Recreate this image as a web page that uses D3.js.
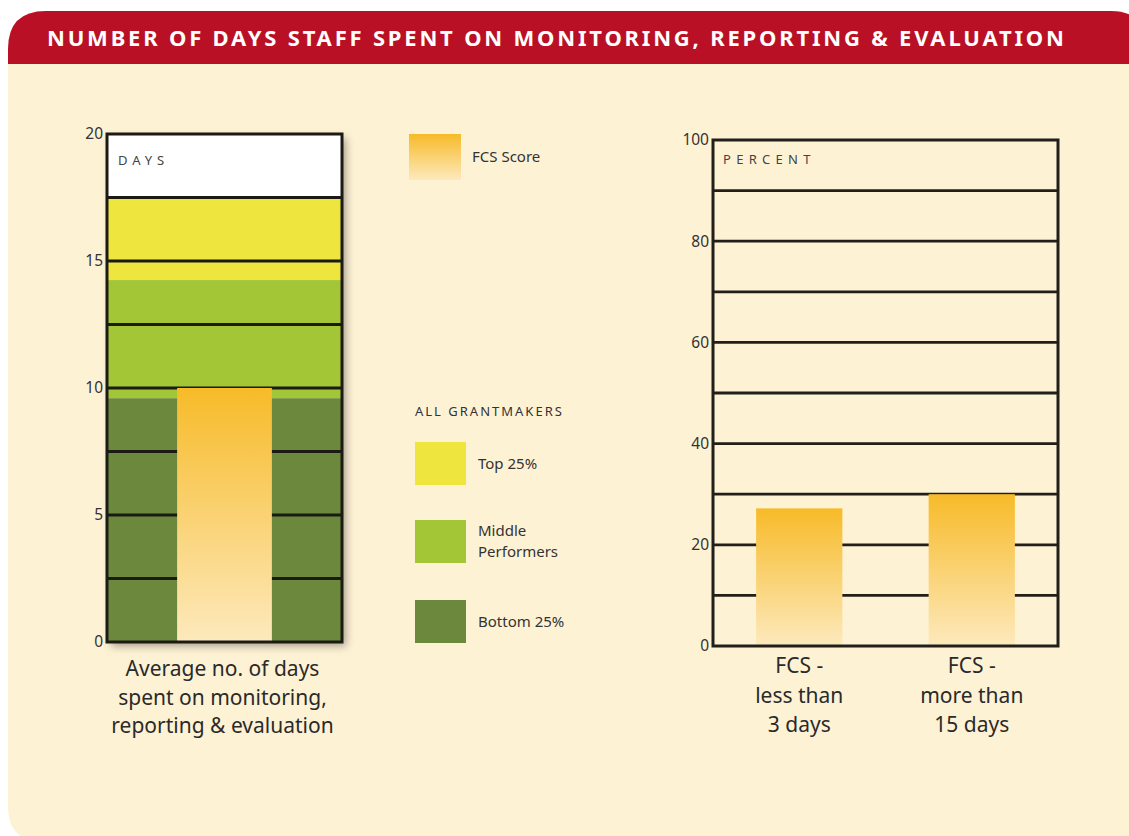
<!DOCTYPE html>
<html>
<head>
<meta charset="utf-8">
<script src="https://cdn.jsdelivr.net/npm/d3@7"></script>
<style>
	body { margin: 0; background: #fff; }
	svg { display: block; font-family: "Noto Sans", sans-serif; }
</style>
</head>
<body>
<div id="chart"></div>
<script>
// DATA
const daysTicks = [0, 5, 10, 15, 20];
const daysGrid = [2.5, 5, 7.5, 10, 12.5, 15, 17.5];
const bandNames = ["Bottom 25%", "Middle Performers", "Top 25%"];
const bandLimits = [0, 9.6, 14.25, 17.5];
const fcsAverageDays = 10;

const percentCategories = [["FCS -", "less than", "3 days"], ["FCS -", "more than", "15 days"]];
const percentValues = [27.2, 30];
const percentTicks = [0, 20, 40, 60, 80, 100];
const percentGrid = [10, 20, 30, 40, 50, 60, 70, 80, 90];

const bandColors = { "Top 25%": "#eee63e", "Middle Performers": "#a3c636", "Bottom 25%": "#6b883c" };

const W = 1129, H = 836;

var svg = d3.select("#chart").append("svg").attr("width", W).attr("height", H);

// GRADIENT & SHADOW
var defs = svg.append("defs");
var grad = defs.append("linearGradient").attr("id", "fcs").attr("x1", 0).attr("y1", 0).attr("x2", 0).attr("y2", 1);
grad.append("stop").attr("offset", "0%").attr("stop-color", "#f7bb29");
grad.append("stop").attr("offset", "100%").attr("stop-color", "#fde9bd");
defs.append("filter").attr("id", "shadow").attr("x", "-10%").attr("y", "-10%").attr("width", "130%").attr("height", "130%")
	.append("feDropShadow").attr("dx", 4).attr("dy", 4).attr("stdDeviation", 4)
	.attr("flood-color", "#000").attr("flood-opacity", 0.35);

// PANEL
const px = 8, pTop = 11, pHead = 64, pRight = 1145, pBottom = 842;
svg.append("path")
	.attr("d", `M${px},${pBottom - 36} L${px},${pTop + 38} Q${px},${pTop} ${px + 38},${pTop} L${pRight - 34},${pTop} Q${pRight},${pTop} ${pRight},${pTop + 34} L${pRight},${pBottom} L${px + 36},${pBottom} Q${px},${pBottom} ${px},${pBottom - 36} Z`)
	.attr("fill", "#fef2d5");
svg.append("path")
	.attr("d", `M${px},${pHead} L${px},${pTop + 38} Q${px},${pTop} ${px + 38},${pTop} L${pRight - 34},${pTop} Q${pRight},${pTop} ${pRight},${pTop + 34} L${pRight},${pHead} Z`)
	.attr("fill", "#b91026");
svg.append("text")
	.attr("x", 47).attr("y", 45.5)
	.attr("fill", "#fff").attr("font-size", 22).attr("font-weight", "bold")
	.attr("letter-spacing", 2.8)
	.text("NUMBER OF DAYS STAFF SPENT ON MONITORING, REPORTING & EVALUATION");

// LEFT CHART
const L = { x0: 107, x1: 342, top: 134, bottom: 642 };
var yL = d3.scaleLinear().domain([0, 20]).range([L.bottom, L.top]);

var left = svg.append("g");
left.append("rect")
	.attr("x", L.x0).attr("y", L.top).attr("width", L.x1 - L.x0).attr("height", L.bottom - L.top)
	.attr("fill", "#fff").attr("filter", "url(#shadow)");

left.selectAll(".band")
	.data(bandNames)
	.join("rect")
	.attr("class", "band")
	.attr("x", L.x0)
	.attr("width", L.x1 - L.x0)
	.attr("y", (d, i) => yL(bandLimits[i + 1]))
	.attr("height", (d, i) => yL(bandLimits[i]) - yL(bandLimits[i + 1]))
	.attr("fill", d => bandColors[d]);

left.selectAll(".grid")
	.data(daysGrid)
	.join("line")
	.attr("class", "grid")
	.attr("x1", L.x0).attr("x2", L.x1)
	.attr("y1", d => yL(d)).attr("y2", d => yL(d))
	.attr("stroke", "#1b1a14").attr("stroke-width", 2.8);

var xL = d3.scaleBand().domain(["avg"]).range([L.x0, L.x1]).paddingInner(0).paddingOuter(0.74);
left.append("rect")
	.attr("x", xL("avg")).attr("width", xL.bandwidth())
	.attr("y", yL(fcsAverageDays)).attr("height", yL(0) - yL(fcsAverageDays))
	.attr("fill", "url(#fcs)");

left.append("rect")
	.attr("x", L.x0).attr("y", L.top).attr("width", L.x1 - L.x0).attr("height", L.bottom - L.top)
	.attr("fill", "none").attr("stroke", "#1b1a14").attr("stroke-width", 3);

left.append("text")
	.attr("x", L.x0 + 11).attr("y", L.top + 31)
	.attr("fill", "#444").attr("font-size", 13).attr("letter-spacing", 5)
	.text("DAYS");

var axL = left.append("g")
	.attr("transform", `translate(${L.x0 - 3},0)`)
	.call(d3.axisLeft(yL).tickValues(daysTicks).tickSize(0).tickPadding(1));
axL.select(".domain").remove();
axL.selectAll("text").attr("font-size", 15.5).attr("fill", "#333").attr("font-family", "Noto Sans");

left.append("text")
	.attr("text-anchor", "middle").attr("font-size", 21).attr("fill", "#2a2a2a")
	.selectAll("tspan")
	.data(["Average no. of days", "spent on monitoring,", "reporting & evaluation"])
	.join("tspan")
	.attr("x", (L.x0 + L.x1) / 2 - 2)
	.attr("y", (d, i) => 676 + i * 28.5)
	.text(d => d);

// LEGEND
var legend = svg.append("g");
legend.append("rect").attr("x", 409).attr("y", 134).attr("width", 52).attr("height", 46).attr("fill", "url(#fcs)");
legend.append("text").attr("x", 472).attr("y", 162).attr("font-size", 15).attr("fill", "#333").text("FCS Score");
legend.append("text").attr("x", 415).attr("y", 416).attr("font-size", 13).attr("fill", "#333")
	.attr("letter-spacing", 2).text("ALL GRANTMAKERS");

const legendRows = bandNames.slice().reverse();
const legendY = [442, 520, 600];
legend.selectAll(".lswatch")
	.data(legendRows)
	.join("rect")
	.attr("class", "lswatch")
	.attr("x", 415).attr("y", (d, i) => legendY[i])
	.attr("width", 51).attr("height", 43)
	.attr("fill", d => bandColors[d]);
legend.selectAll(".llabel")
	.data(legendRows)
	.join("text")
	.attr("class", "llabel")
	.attr("font-size", 15).attr("fill", "#333")
	.each(function (d, i) {
		var lines = d === "Middle Performers" ? ["Middle", "Performers"] : [d];
		var y0 = lines.length === 1 ? legendY[i] + 27 : legendY[i] + 16;
		d3.select(this).selectAll("tspan")
			.data(lines)
			.join("tspan")
			.attr("x", 478)
			.attr("y", (t, j) => y0 + j * 21)
			.text(t => t);
	});

// RIGHT CHART
const R = { x0: 713, x1: 1058, top: 140, bottom: 646 };
var yR = d3.scaleLinear().domain([0, 100]).range([R.bottom, R.top]);
var xR = d3.scaleBand().domain(d3.range(percentValues.length)).range([R.x0, R.x1]).paddingInner(0.5).paddingOuter(0.25);

var right = svg.append("g");
right.selectAll(".grid")
	.data(percentGrid)
	.join("line")
	.attr("class", "grid")
	.attr("x1", R.x0).attr("x2", R.x1)
	.attr("y1", d => yR(d)).attr("y2", d => yR(d))
	.attr("stroke", "#221e1a").attr("stroke-width", 2.8);

right.selectAll(".bar")
	.data(percentValues)
	.join("rect")
	.attr("class", "bar")
	.attr("x", (d, i) => xR(i))
	.attr("width", xR.bandwidth())
	.attr("y", d => yR(d))
	.attr("height", d => yR(0) - yR(d))
	.attr("fill", "url(#fcs)");

right.append("rect")
	.attr("x", R.x0).attr("y", R.top).attr("width", R.x1 - R.x0).attr("height", R.bottom - R.top)
	.attr("fill", "none").attr("stroke", "#221e1a").attr("stroke-width", 3);

right.append("text")
	.attr("x", R.x0 + 10).attr("y", R.top + 24)
	.attr("fill", "#444").attr("font-size", 13).attr("letter-spacing", 5.3)
	.text("PERCENT");

var axR = right.append("g")
	.attr("transform", `translate(${R.x0 - 3},0)`)
	.call(d3.axisLeft(yR).tickValues(percentTicks).tickSize(0).tickPadding(1));
axR.select(".domain").remove();
axR.selectAll("text").attr("font-size", 15.5).attr("fill", "#333").attr("font-family", "Noto Sans");

right.selectAll(".cat")
	.data(percentCategories)
	.join("text")
	.attr("class", "cat")
	.attr("text-anchor", "middle").attr("font-size", 21).attr("fill", "#2a2a2a")
	.each(function (lines, i) {
		d3.select(this).selectAll("tspan")
			.data(lines)
			.join("tspan")
			.attr("x", xR(i) + xR.bandwidth() / 2)
			.attr("y", (t, j) => 673 + j * 29.5)
			.text(t => t);
	});
</script>
</body>
</html>
